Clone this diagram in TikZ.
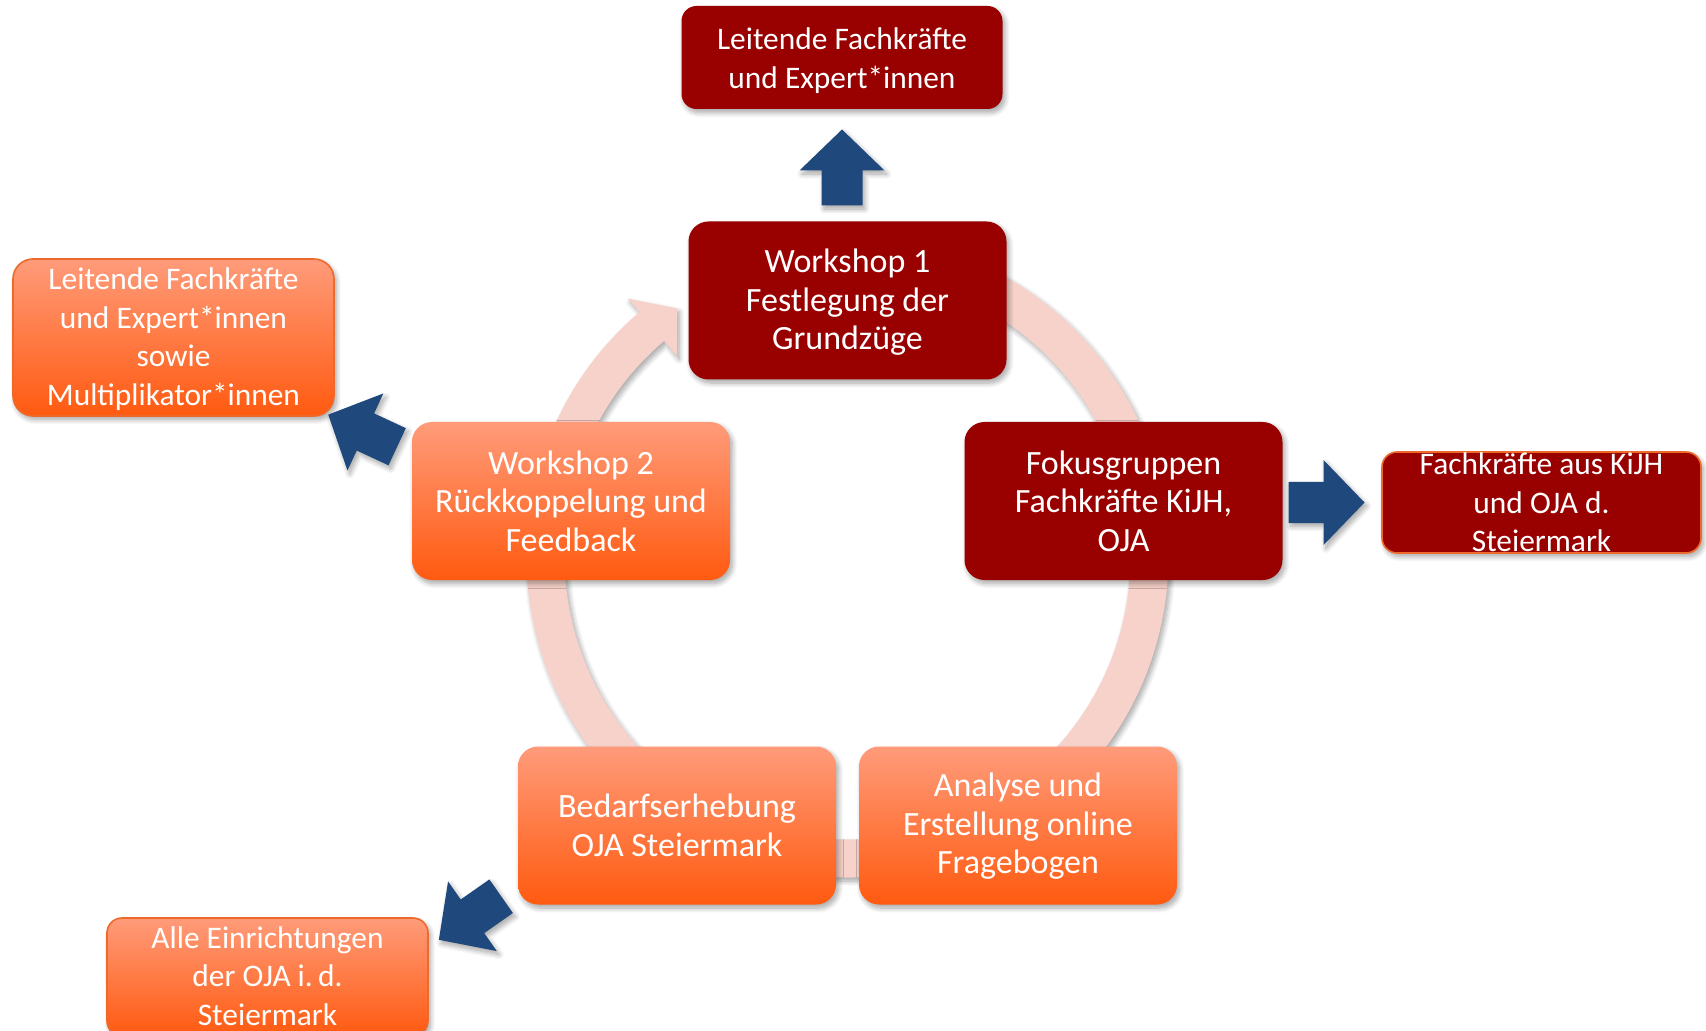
\documentclass[tikz,border=0pt]{standalone}
\usepackage{fontspec}
\setmainfont{Carlito}
\usetikzlibrary{calc,shadows.blur}

\definecolor{kred}{HTML}{990000}
\definecolor{otop}{HTML}{FF9B7A}
\definecolor{obot}{HTML}{FF5A10}
\definecolor{oline}{HTML}{EE6A2C}
\definecolor{arrowblue}{HTML}{1F497D}
\definecolor{ringpink}{HTML}{F7D2CA}

\begin{document}
\begin{tikzpicture}[x=0.5pt,y=-0.5pt,
  softshadow/.style={blur shadow={shadow xshift=1.2pt,shadow yshift=-1.8pt,
      shadow blur radius=2.5pt,shadow blur steps=8,shadow opacity=35}},
  box/.style={rounded corners=10pt,inner sep=0pt,softshadow},
  bigbox/.style={box,minimum width=159pt,minimum height=79pt},
  smallbox/.style={box,rounded corners=7.5pt,minimum width=160.5pt},
  redbox/.style={fill=kred},
  orangebox/.style={top color=otop,bottom color=obot},
  rim/.style={draw=oline,line width=0.8pt},
  bigtxt/.style={text=white,align=center,inner sep=0pt,
      font=\fontsize{17pt}{19.3pt}\selectfont},
  smalltxt/.style={text=white,align=center,inner sep=0pt,
      font=\fontsize{15.7pt}{19.2pt}\selectfont},
  blockarrow/.pic={
    \fill[arrowblue,softshadow] (-38,-20.5) -- (-3,-20.5) -- (-3,-42.5) -- (38,0)
      -- (-3,42.5) -- (-3,20.5) -- (-38,20.5) -- cycle;}
]
\useasboundingbox (0,0) rectangle (1706,1031);

% cycle ring with its arrowhead, behind the process boxes
\coordinate (ringc) at (847.5,556.5);
\fill[ringpink,softshadow]
  ($(ringc)+(80:160.5pt)$) arc[start angle=80,end angle=-229.6,radius=160.5pt]
  -- ($(ringc)+(130.4:169.25pt)$) -- ($(ringc)+(124.5:150.5pt)$)
  -- ($(ringc)+(130.4:131.75pt)$) -- ($(ringc)+(130.4:141.5pt)$)
  arc[start angle=-229.6,end angle=80,radius=141.5pt] -- cycle;

% process steps
\node[bigbox,redbox] (w1) at (847.5,300.5) {};
\node[bigtxt,yshift=-1pt] at (w1) {Workshop 1\\Festlegung der\\Grundzüge};

\node[bigbox,redbox] (fokus) at (1123.5,501) {};
\node[bigtxt] at (fokus) {Fokusgruppen\\Fachkräfte KiJH,\\OJA};

\node[bigbox,orangebox] (analyse) at (1018,825.5) {};
\node[bigtxt,yshift=-0.5pt] at (analyse) {Analyse und\\Erstellung online\\Fragebogen};

\node[bigbox,orangebox] (bedarf) at (677,825.5) {};
\node[bigtxt] at (bedarf) {Bedarfserhebung\\OJA Steiermark};

\node[bigbox,orangebox] (w2) at (571,501) {};
\node[bigtxt] at (w2) {Workshop 2\\Rückkoppelung und\\Feedback};

% participant groups
\node[smallbox,redbox,minimum height=51.5pt] (lead) at (842,57.5) {};
\node[smalltxt,yshift=-1.5pt] at (lead) {Leitende Fachkräfte\\und Expert*innen};

\node[smallbox,redbox,rim,minimum width=159.5pt,minimum height=50.5pt] (fach) at (1541.5,502.5) {};
\node[smalltxt] at (fach) {Fachkräfte aus KiJH\\und OJA d.\\Steiermark};

\node[smallbox,orangebox,rim,rounded corners=10pt,minimum height=78.5pt] (multi) at (173.5,337.5) {};
\node[smalltxt,yshift=-0.8pt] at (multi) {Leitende Fachkräfte\\und Expert*innen\\sowie\\Multiplikator*innen};

\node[smallbox,orangebox,rim,minimum height=59pt] (alle) at (267.5,977) {};
\node[smalltxt,yshift=0.5pt] at (alle) {Alle Einrichtungen\\der OJA i.\,d.\\Steiermark};

% block arrows from the steps to their groups
\pic[rotate=90] at (842,167.5) {blockarrow};
\pic[rotate=0] at (1326.5,502.5) {blockarrow};
\pic[rotate=155] at (362.7,430.7) {blockarrow};
\pic[rotate=215] at (470,918) {blockarrow};
\end{tikzpicture}
\end{document}
